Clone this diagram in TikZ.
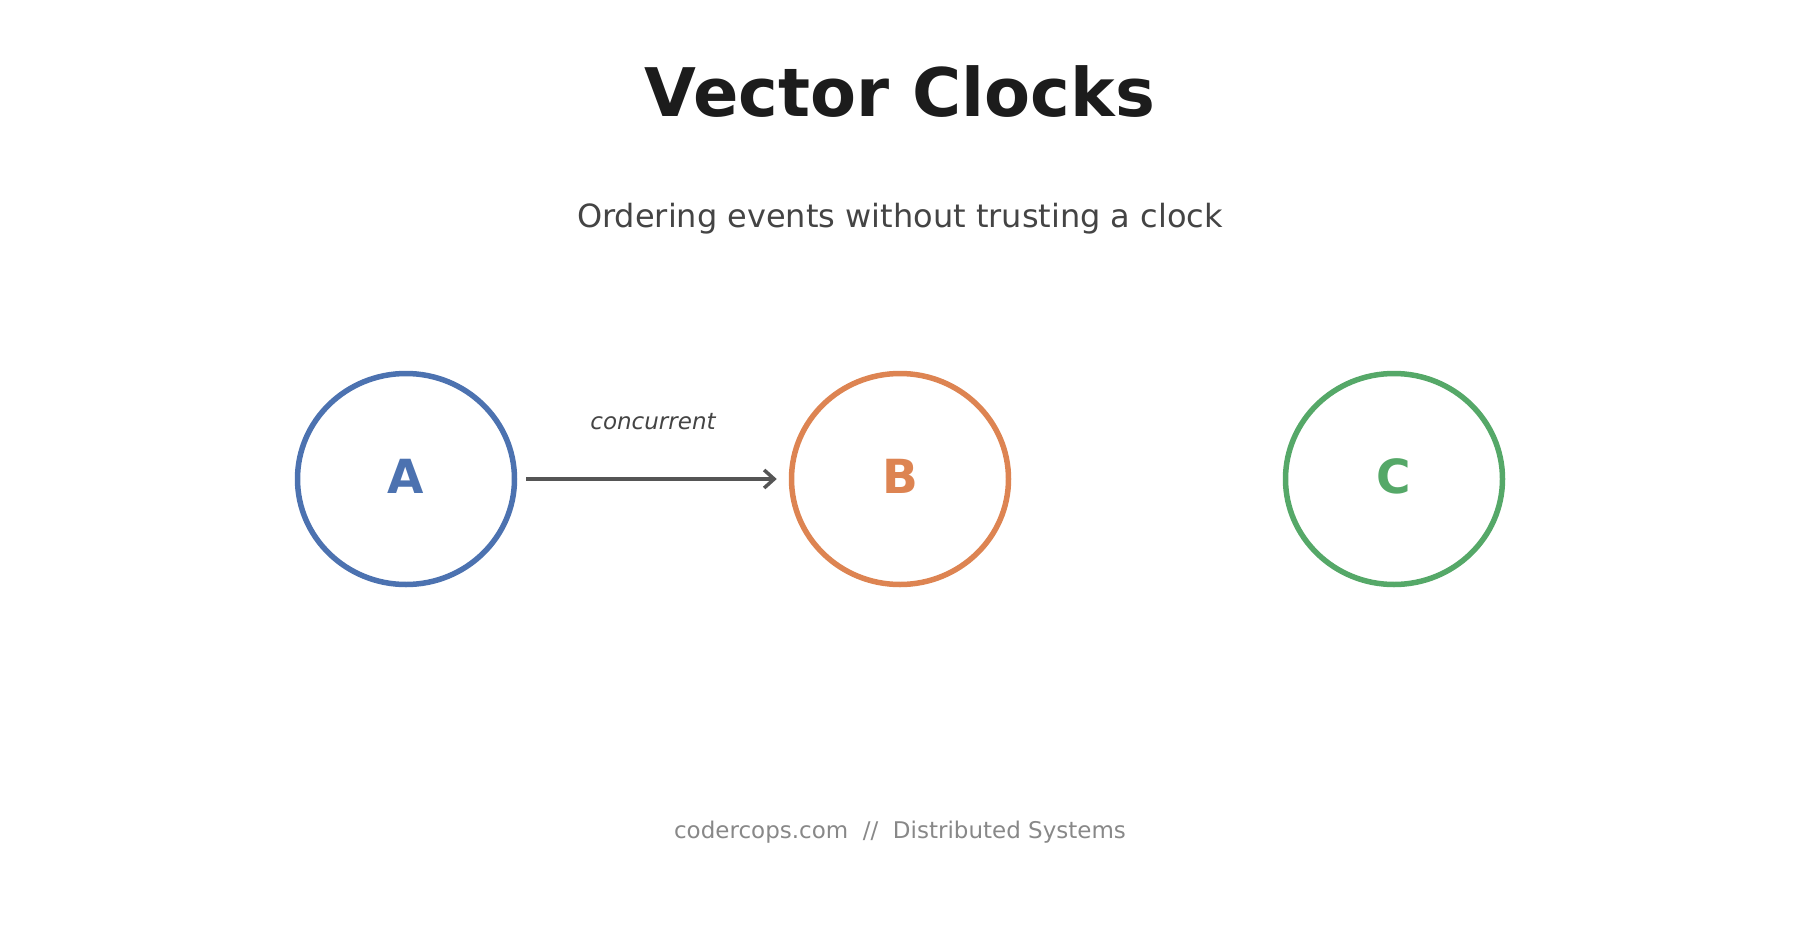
\documentclass[tikz,border=0pt]{standalone}
\usepackage{fontspec}
\setmainfont{DejaVu Sans}
\usetikzlibrary{shapes.geometric,arrows.meta}
\definecolor{nodeblue}{HTML}{4C72B0}
\definecolor{nodeorange}{HTML}{DD8452}
\definecolor{nodegreen}{HTML}{55A868}
\definecolor{titlegray}{HTML}{1C1C1C}
\definecolor{subgray}{HTML}{444444}
\definecolor{arrowgray}{HTML}{555555}
\definecolor{footgray}{HTML}{888888}

\begin{document}
\begin{tikzpicture}[ x=1pt, y=-1pt,
  proc/.style={shape=ellipse, draw, line width=5.5pt, inner sep=0pt,
    minimum width=217pt, minimum height=211pt, text depth=6pt,
    font=\fontsize{47}{56}\selectfont\bfseries},
]
\useasboundingbox (0,0) rectangle (1800,945);

\node[titlegray,anchor=base,font=\fontsize{67}{80}\selectfont\bfseries] (title) at (900,116) {Vector Clocks};
\node[subgray,anchor=base,font=\fontsize{32}{38}\selectfont] (subtitle) at (900,227) {Ordering events without trusting a clock};

\node[proc,nodeblue] (A) at (406,479) {A};
\node[proc,nodeorange] (B) at (900,479) {B};
\node[proc,nodegreen] (C) at (1394,479) {C};

\draw[arrowgray,line width=3.5pt,-{Straight Barb[length=10pt,width=18pt]},shorten <=9pt,shorten >=12pt] (A) -- (B)
  node[midway,anchor=base,yshift=50pt,font=\fontsize{23}{28}\selectfont\itshape,subgray] (lab) {concurrent};

\node[footgray,anchor=base,font=\fontsize{23}{28}\selectfont] (footer) at (900,838) {codercops.com\ \ //\ \ Distributed Systems};


\end{tikzpicture}
\end{document}
